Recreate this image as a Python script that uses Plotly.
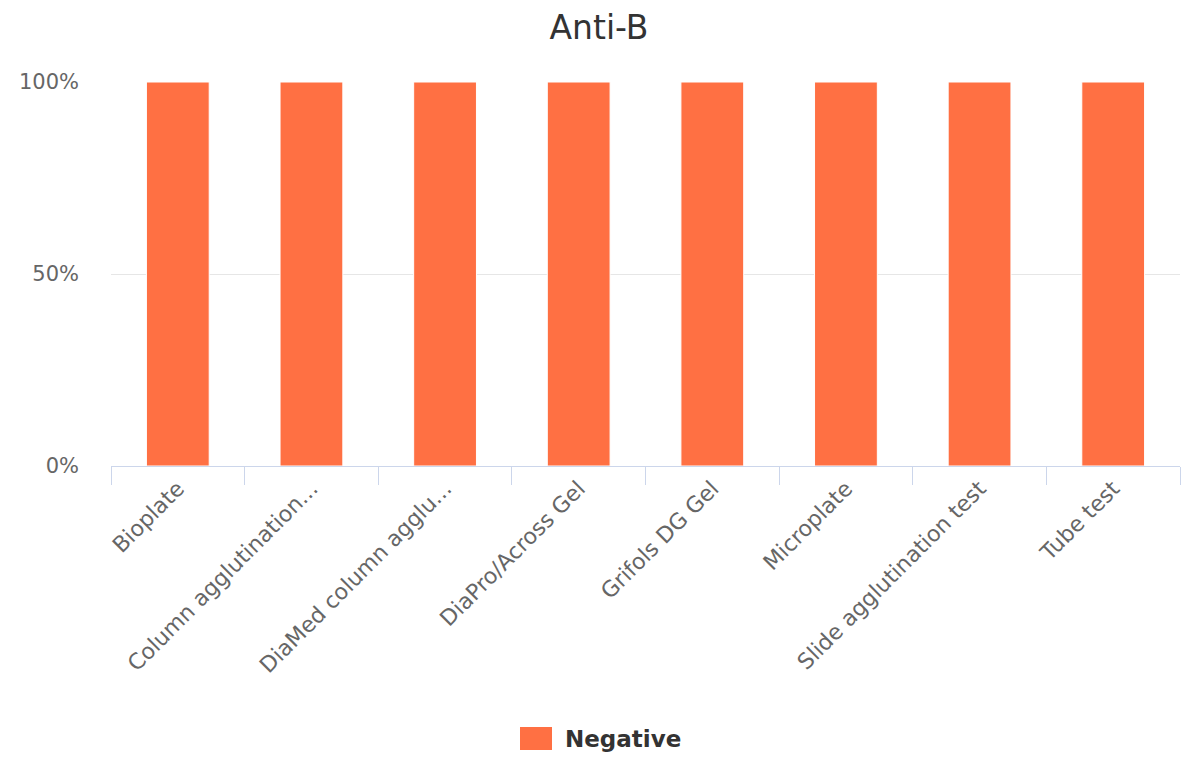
import plotly.graph_objects as go

categories = ["Bioplate", "Column agglutination...", "DiaMed column agglu...", "DiaPro/Across Gel",
              "Grifols DG Gel", "Microplate", "Slide agglutination test", "Tube test"]
negative = [100, 100, 100, 100, 100, 100, 100, 100]
tick_vals = [0, 50, 100]
tick_text = ["0%", "50%", "100%"]
series_name = "Negative"
color = "#ff7043"

W, H = 1182, 745
# plot area in figure pixels
L, R, T, B = 103, 10, 74, 287
PW, PH = W - L - R, H - T - B


def px_to_paper_x(px):
    return (px - L) / PW


def px_to_paper_y(py):
    return (H - B - py) / PH


fig = go.Figure()
fig.add_trace(go.Bar(x=categories, y=negative, name=series_name,
                     marker=dict(color=color, line=dict(color="#ffffff", width=1)),
                     width=0.47, showlegend=False))

# legend drawn as swatch + label (wide swatch like the reference)
fig.add_shape(type="rect", xref="paper", yref="paper",
              x0=px_to_paper_x(512), x1=px_to_paper_x(544),
              y0=px_to_paper_y(742), y1=px_to_paper_y(719),
              fillcolor=color, line=dict(width=0))
fig.add_annotation(text="<b>" + series_name + "</b>", xref="paper", yref="paper",
                   x=px_to_paper_x(555), y=px_to_paper_y(731), xanchor="left", yanchor="middle",
                   showarrow=False, font=dict(size=23, color="#333333", family="DejaVu Sans"))

fig.update_layout(
    width=W, height=H,
    paper_bgcolor="white", plot_bgcolor="white",
    font=dict(family="DejaVu Sans", color="#666666"),
    title=dict(text="Anti-B", x=0.5, xanchor="center", y=1 - 19 / H, yanchor="middle",
               yref="container", font=dict(size=33, color="#333333", family="DejaVu Sans")),
    margin=dict(l=L, r=R, t=T, b=B, autoexpand=False),
    showlegend=False,
)
fig.update_xaxes(type="category", tickangle=-45, tickson="boundaries", ticks="outside", ticklen=18,
                 tickcolor="#ccd6eb", showline=True, linecolor="#ccd6eb", linewidth=1,
                 showgrid=False, automargin=False, tickfont=dict(size=22, color="#666666"))
fig.update_yaxes(range=[0, 100], tickvals=tick_vals, ticktext=tick_text, showgrid=True,
                 gridcolor="#e6e6e6", zeroline=False, showline=False, automargin=False,
                 tickfont=dict(size=21, color="#666666"), ticks="", ticklabelstandoff=31)

fig.write_html("out.html")
